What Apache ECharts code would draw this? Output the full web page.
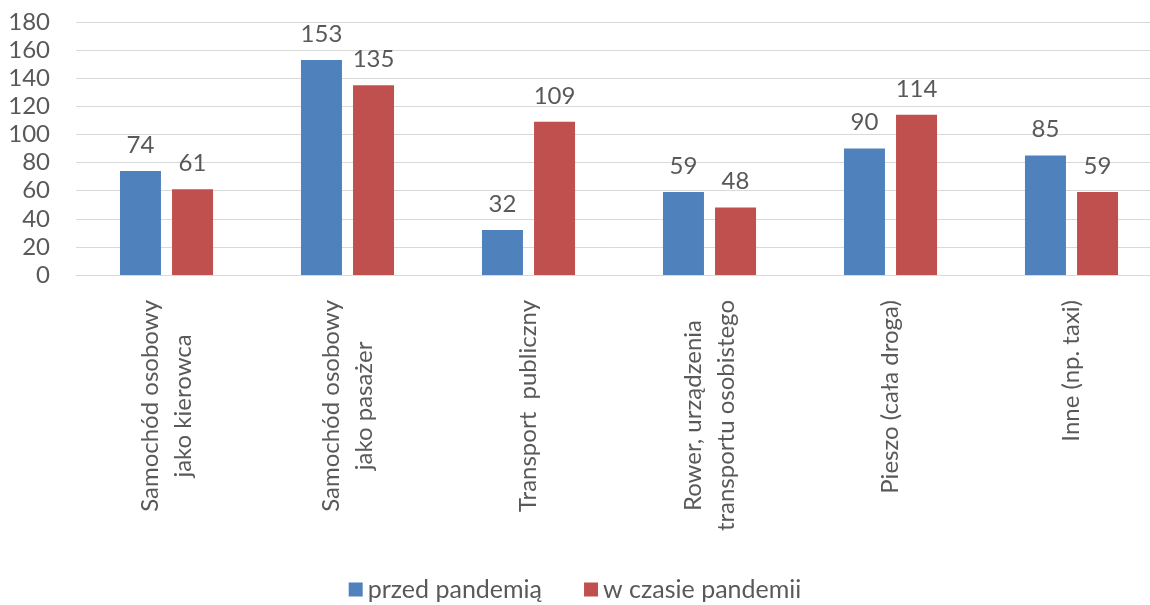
<!DOCTYPE html>
<html>
<head>
<meta charset="utf-8">
<script src="https://cdn.jsdelivr.net/npm/echarts@6/dist/echarts.min.js"></script>
<style>
html,body{margin:0;padding:0;background:#fff;}
#chart{width:1150px;height:605px;}
</style>
</head>
<body>
<div id="chart"></div>
<script>
const categories = [
  "Samochód osobowy\njako kierowca",
  "Samochód osobowy\njako pasażer",
  "Transport  publiczny",
  "Rower, urządzenia\ntransportu osobistego",
  "Pieszo (cała droga)",
  "Inne (np. taxi)"
];
const seriesNames = ["przed pandemią", "w czasie pandemii"];
const beforePandemic = [74, 153, 32, 59, 90, 85];
const duringPandemic = [61, 135, 109, 48, 114, 59];
const yTicks = { min: 0, max: 180, interval: 20 };

const FONT = 'Lato';
const FS = 24;
const TXT = '#595959';
const chart = echarts.init(document.getElementById('chart'), null, {renderer: 'canvas'});
chart.setOption({
  animation: false,
  backgroundColor: '#ffffff',
  textStyle: {fontFamily: FONT},
  color: ['#4F81BD', '#C0504D'],
  grid: {left: 76, width: 1086, top: 22, height: 253, containLabel: false, outerBoundsMode: 'none'},
  legend: {
    top: 572, left: 'center',
    itemWidth: 14, itemHeight: 14, itemGap: 42,
    icon: 'rect',
    textStyle: {fontFamily: FONT, fontSize: 25, color: TXT}
  },
  xAxis: {
    type: 'category',
    data: categories,
    axisTick: {show: false},
    axisLine: {lineStyle: {color: '#D9D9D9', width: 1}},
    axisLabel: {
      rotate: 90, margin: 25, interval: 0,
      fontFamily: FONT, fontSize: FS, color: TXT, lineHeight: 33,
      formatter: function (v) { return v.split('\n').map(function (l) { return '{c|' + l + '}'; }).join('\n'); },
      rich: {c: {align: 'center', fontFamily: FONT, fontSize: FS, color: TXT, lineHeight: 33}}
    }
  },
  yAxis: {
    type: 'value',
    min: yTicks.min, max: yTicks.max, interval: yTicks.interval,
    axisLine: {show: false}, axisTick: {show: false},
    axisLabel: {fontFamily: FONT, fontSize: FS, color: TXT, margin: 26},
    splitLine: {lineStyle: {color: '#D9D9D9', width: 1}}
  },
  series: [
    {
      name: seriesNames[0], type: 'bar', data: beforePandemic,
      barWidth: 41, barGap: '27%',
      label: {show: true, position: 'top', distance: 14, fontFamily: FONT, fontSize: FS, color: TXT}
    },
    {
      name: seriesNames[1], type: 'bar', data: duringPandemic,
      barWidth: 41,
      label: {show: true, position: 'top', distance: 14, fontFamily: FONT, fontSize: FS, color: TXT}
    }
  ]
});
</script>
</body>
</html>
